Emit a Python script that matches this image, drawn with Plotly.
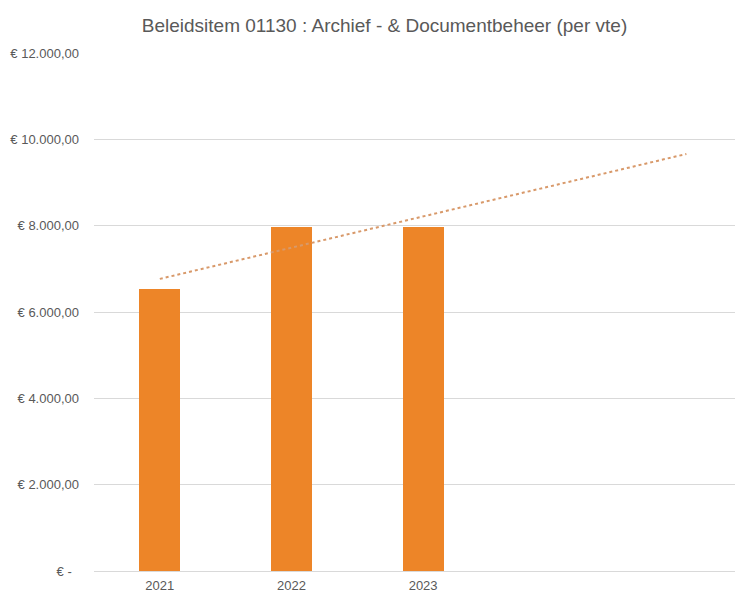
import numpy as np
import plotly.graph_objects as go

# data
years = ['2021', '2022', '2023']
bedrag_per_vte = [6531, 7962, 7978]
forecast_periods = 2  # trendline extended forward
y_ticks = [0, 2000, 4000, 6000, 8000, 10000, 12000]


def euro(v):
    if v == 0:
        return '€ -  '
    s = f'{v:,.2f}'.replace(',', 'X').replace('.', ',').replace('X', '.')
    return '€ ' + s


x_pos = np.arange(len(years))

# linear trendline (like Excel), extended forward
coef = np.polyfit(x_pos + 1, bedrag_per_vte, 1)
trend_x = np.array([0, len(years) - 1 + forecast_periods])
trend_y = np.polyval(coef, trend_x + 1)

fig = go.Figure()

fig.add_trace(go.Bar(
    x=x_pos,
    y=bedrag_per_vte,
    width=0.31,
    marker=dict(color='#ED8528', line=dict(width=0)),
    showlegend=False,
    hoverinfo='y'
))

fig.add_trace(go.Scatter(
    x=trend_x,
    y=trend_y,
    mode='lines',
    line=dict(color='#D8996A', width=2, dash='dot'),
    showlegend=False,
    hoverinfo='skip'
))

# page body has an 8px margin, so the figure is a bit smaller
fig.update_layout(
    width=735,
    height=585,
    margin=dict(l=86, r=0, t=45, b=20),
    paper_bgcolor='white',
    plot_bgcolor='white',
    font=dict(family='Liberation Sans, Arial, sans-serif', color='#595959', size=13),
    title=dict(
        text='Beleidsitem 01130 : Archief - & Documentbeheer (per vte)',
        x=(384.5 - 8) / 735,
        xanchor='center',
        y=1 - 17 / 585,
        yanchor='middle',
        font=dict(size=19, color='#595959')
    ),
    bargap=0,
)

fig.update_xaxes(
    range=[-0.5, 4.43],
    tickvals=list(x_pos),
    ticktext=years,
    showgrid=False,
    zeroline=False,
    showline=True,
    linecolor='#D9D9D9',
    linewidth=1,
    ticks='',
    ticklabelstandoff=2,
    tickfont=dict(size=13, color='#595959'),
)

fig.update_yaxes(
    range=[0, 12000],
    tickvals=y_ticks,
    ticktext=[euro(v) for v in y_ticks],
    showgrid=True,
    gridcolor='#D9D9D9',
    gridwidth=1,
    zeroline=False,
    showline=False,
    ticks='',
    ticklabelstandoff=14,
    tickfont=dict(size=13, color='#595959'),
)

fig.write_html("out.html")
